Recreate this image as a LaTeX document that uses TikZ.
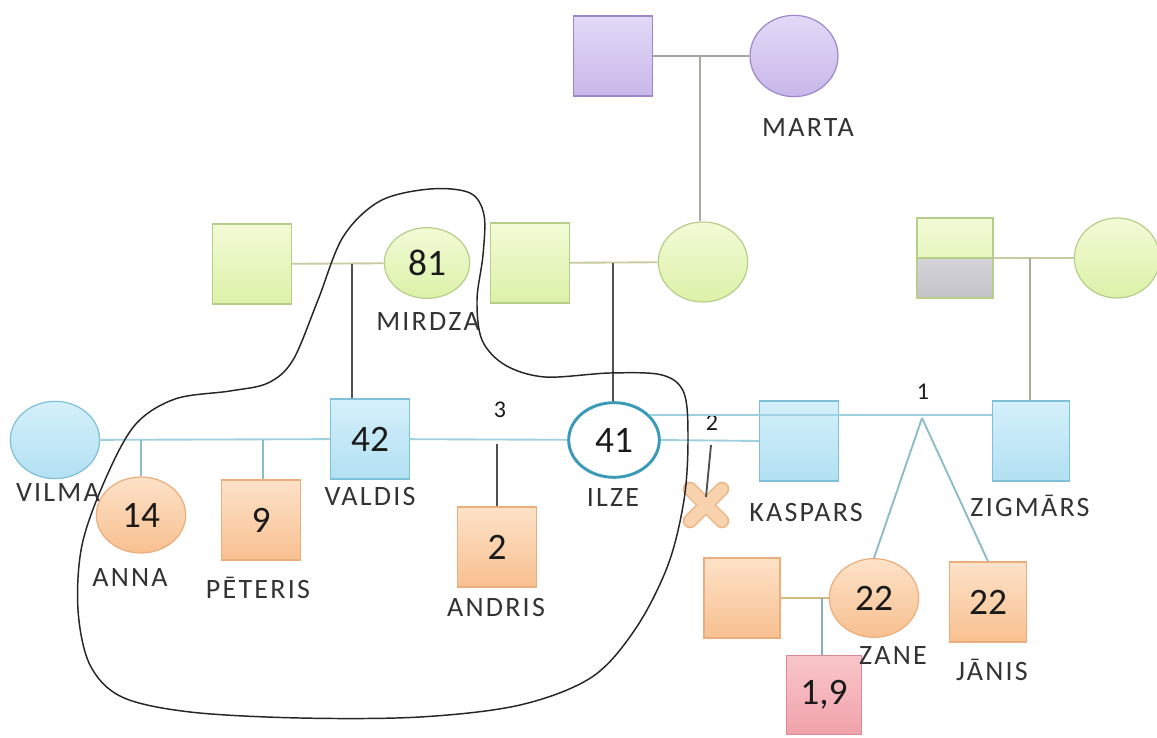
\documentclass[tikz,border=0pt]{standalone}
\usepackage{fontspec}
\setmainfont{Carlito}
\newfontfamily\lblfont{Carlito}[LetterSpace=8]
\usetikzlibrary{shapes.geometric,calc}
\definecolor{purpT}{HTML}{E2D9F6}\definecolor{purpB}{HTML}{C8B7EA}\definecolor{purpD}{HTML}{9C88C9}
\definecolor{grnT}{HTML}{F2FBD6}\definecolor{grnB}{HTML}{DCF1A8}\definecolor{grnD}{HTML}{B7CD8A}
\definecolor{bluT}{HTML}{D4F0FB}\definecolor{bluB}{HTML}{B2E0F2}\definecolor{bluD}{HTML}{7EC0D8}
\definecolor{orT}{HTML}{FDE2C8}\definecolor{orB}{HTML}{F8C090}\definecolor{orD}{HTML}{EBAE7C}
\definecolor{pkT}{HTML}{F9C6CA}\definecolor{pkB}{HTML}{F0A2AA}\definecolor{pkD}{HTML}{D98A92}
\definecolor{gryT}{HTML}{E6E6EC}\definecolor{gryB}{HTML}{C2C2C8}
\definecolor{ilzeD}{HTML}{3A9AB8}
\definecolor{labc}{HTML}{333333}\definecolor{numc}{HTML}{1A1A1A}
\definecolor{tanL}{HTML}{C9C9A2}\definecolor{blueL}{HTML}{9FD0E0}\definecolor{tealL}{HTML}{8CBCC6}
\definecolor{darkL}{HTML}{505050}\definecolor{grayL}{HTML}{A8AE98}
\definecolor{crossD}{HTML}{EDB88C}\definecolor{crossF}{HTML}{F9D2AE}
\tikzset{
  sq/.style={rectangle, minimum width=59pt, minimum height=60pt, inner sep=0pt, line width=0.9pt},
  el/.style={ellipse, inner sep=0pt, line width=0.9pt},
  purp/.style={draw=purpD, top color=purpT, bottom color=purpB},
  grn/.style={draw=grnD, top color=grnT, bottom color=grnB},
  blu/.style={draw=bluD, top color=bluT, bottom color=bluB},
  ora/.style={draw=orD, top color=orT, bottom color=orB},
  pnk/.style={draw=pkD, top color=pkT, bottom color=pkB},
  lbl/.style={font=\lblfont\fontsize{21}{24}\selectfont, text=labc},
  num/.style={font=\fontsize{28}{30}\selectfont, text=numc},
  tag/.style={font=\fontsize{18}{20}\selectfont, text=numc},
  cl/.style={line width=1.4pt},
  bigcurve/.style={draw=black!85, line width=1.1pt}
}
\begin{document}
\begin{tikzpicture}[x=0.75pt,y=-0.75pt]
\fill[white] (0,0) rectangle (1157,738);
\useasboundingbox (0,0) rectangle (1157,738);
% generation 1
\node[sq,purp] (gf) at (613,56) {};
\node[el,purp,minimum width=66pt,minimum height=61pt] (marta) at (794,56) {};
% generation 2
\node[sq,grn] (mh) at (252,264) {};
\node[el,grn,minimum width=64pt,minimum height=53pt] (mirdza) at (427,263) {};
\node[num] at (mirdza) {81};
\node[sq,grn] (ifa) at (530,263) {};
\node[el,grn,minimum width=67pt,minimum height=60pt] (imo) at (703,262) {};
\node[sq,grn,minimum width=57pt,
  path picture={\shade[top color=gryT,bottom color=gryB] (path picture bounding box.west) rectangle (path picture bounding box.south east);
  \draw[grnD,line width=0.9pt] (path picture bounding box.west) -- (path picture bounding box.east);}] (zfa) at (955,258) {};
\node[el,grn,minimum width=64pt,minimum height=60pt] (zmo) at (1117,258) {};
% generation 3
\node[el,blu,minimum width=67pt,minimum height=58pt] (vilma) at (55,440) {};
\node[sq,blu] (valdis) at (370,439) {};
\node[num] at (valdis) {42};
\node[el,draw=ilzeD,line width=2.2pt,fill=white,minimum width=68pt,minimum height=56pt] (ilze) at (614,440) {};
\node[num] at (ilze) {41};
\node[sq,blu] (kaspars) at (799,441) {};
\node[sq,blu,minimum width=58pt] (zigmars) at (1031,441) {};
% generation 4
\node[el,ora,minimum width=67pt,minimum height=57pt] (anna) at (141,515) {};
\node[num] at (anna) {14};
\node[sq,ora] (peteris) at (261,520) {};
\node[num] at (peteris) {9};
\node[sq,ora] (andris) at (497,547) {};
\node[num] at (andris) {2};
\node[sq,ora,minimum width=57pt] (zsp) at (742,598) {};
\node[el,ora,minimum width=67pt,minimum height=59pt] (zane) at (874,598) {};
\node[num] at (zane) {22};
\node[sq,ora,minimum width=58pt] (janis) at (988,602) {};
\node[num] at (janis) {22};
\node[sq,pnk,minimum width=56pt,minimum height=59pt] (baby) at (824,695) {};
\node[num] at (baby) {1,9};
% miscarriage cross
\coordinate (cross) at (706,505);
\draw[crossD,line width=11pt,line cap=round] ($(cross)+(-16,-16)$) -- ($(cross)+(16,16)$) ($(cross)+(16,-16)$) -- ($(cross)+(-16,16)$);
\draw[crossF,line width=8.5pt,line cap=round] ($(cross)+(-16,-16)$) -- ($(cross)+(16,16)$) ($(cross)+(16,-16)$) -- ($(cross)+(-16,16)$);
% labels
\node[lbl] (lmarta) at (808,128) {MARTA};
\node[lbl] (lmirdza) at (428,322) {MIRDZA};
\node[lbl] (lvilma) at (58,493) {VILMA};
\node[lbl] (lvaldis) at (370,497) {VALDIS};
\node[lbl] (lilze) at (613,498) {ILZE};
\node[lbl] (lkaspars) at (806,513) {KASPARS};
\node[lbl] (lzigmars) at (1030,506) {ZIGMĀRS};
\node[lbl] (lanna) at (130,578) {ANNA};
\node[lbl] (lpeteris) at (258,588) {PĒTERIS};
\node[lbl] (landris) at (496,608) {ANDRIS};
\node[lbl] (lzane) at (893,656) {ZANE};
\node[lbl] (ljanis) at (992,670) {JĀNIS};
\node[tag] (t3) at (500,410) {3};
\node[tag] (t2) at (712,423) {2};
\node[tag] (t1) at (923,392) {1};
% couple lines and descents
\coordinate (c1) at (700,56);
\draw[cl,draw=gray!70] (gf) -- (marta);
\draw[cl,draw=grayL] (c1) -- (c1 |- imo.north);
\coordinate (c2) at (352,264);
\draw[cl,draw=tanL] (mh) -- (mirdza);
\draw[cl,draw=darkL] (c2) -- (c2 |- valdis.north);
\coordinate (c3) at (613,263);
\draw[cl,draw=tanL] (ifa) -- (imo);
\draw[cl,draw=darkL] (c3) -- (c3 |- ilze.north);
\coordinate (c4) at (1030,258);
\draw[cl,draw=tanL] (zfa) -- (zmo);
\draw[cl,draw=grayL] (c4) -- (c4 |- zigmars.north);
\draw[cl,draw=blueL] (vilma) -- (valdis);
\coordinate (c5) at (141,440);
\coordinate (c6) at (263,440);
\draw[cl,draw=tealL] (c5) -- (anna.north);
\draw[cl,draw=tealL] (c6) -- (c6 |- peteris.north);
\draw[cl,draw=blueL] (valdis) -- (ilze);
\coordinate (c7) at (497,444);
\draw[cl,draw=darkL] (c7) -- (andris.north);
\draw[cl,draw=blueL] (ilze.east) -- (kaspars.west);
\draw[cl,draw=blueL] (ilze.35) -- (ilze.35 -| zigmars.west);
\coordinate (c8) at (711,445);
\draw[cl,draw=darkL] (c8) -- ($(cross)+(0,-8)$);
\coordinate (tw) at (922,418);
\draw[cl,draw=tealL] (tw) -- (zane.north);
\draw[cl,draw=tealL] (tw) -- (janis.north);
\coordinate (c9) at (822,598);
\draw[cl,draw=tanL!80!orange] (zsp) -- (zane);
\draw[cl,draw=tealL!80!gray] (c9) -- (c9 |- baby.north);
% enclosing curve
\draw[bigcurve] plot[smooth cycle, tension=0.55] coordinates {
 (430,189) (470,193) (484,215) (483,255) (477,300) (482,340) (505,365) (545,377)
 (610,373) (662,375) (684,393) (688,440) (684,500) (668,565) (636,628) (592,677)
 (520,705) (420,717) (300,718) (190,712) (122,697) (90,665) (78,610) (82,545)
 (105,480) (135,425) (175,399) (230,391) (268,383) (293,360) (318,300) (343,237) (380,201)};
\end{tikzpicture}
\end{document}
